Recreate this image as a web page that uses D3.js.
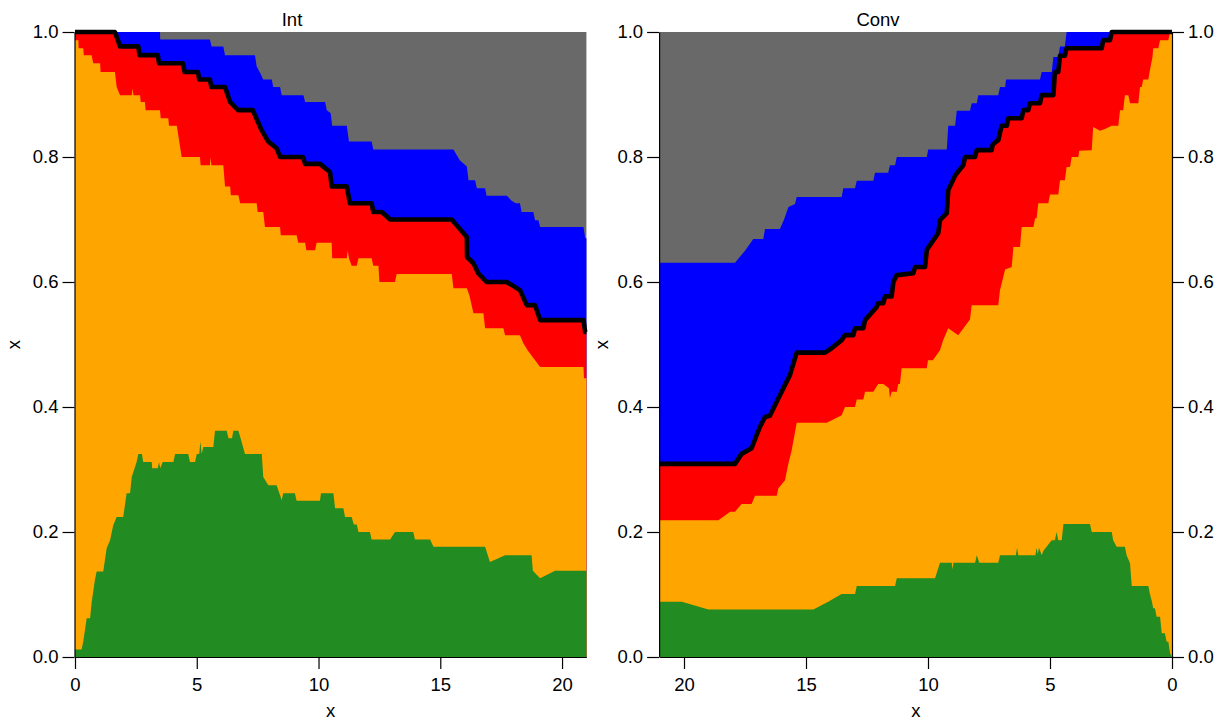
<!DOCTYPE html>
<html>
<head>
<meta charset="utf-8">
<script src="https://cdn.jsdelivr.net/npm/d3@7"></script>
<style>
  body { margin: 0; background: #ffffff; }
  text { font-family: "Liberation Sans", Arial, Helvetica, sans-serif; fill: #000; }
</style>
</head>
<body>
<svg id="chart" width="1227" height="724"></svg>
<script>
// Cumulative proportion boundaries, [x, upper edge of band]

const topEdge = [[0, 1], [21, 1]];

// Panel "Int"
const intBlueTop = [[0,1.0],[3.49,1.0],[3.5,0.988],[5.54,0.988],[5.61,0.977],[6.09,0.977],[6.16,0.963],[7.39,0.963],[7.46,0.945],[7.6,0.935],[7.73,0.924],[8.08,0.924],[8.14,0.912],[8.42,0.912],[8.49,0.899],[9.38,0.899],[9.45,0.888],[10.27,0.888],[10.34,0.875],[10.5,0.87],[10.56,0.85],[11.16,0.85],[11.25,0.825],[12.18,0.825],[12.25,0.812],[15.54,0.812],[15.8,0.795],[16.09,0.785],[16.16,0.763],[16.43,0.763],[16.5,0.75],[16.84,0.75],[16.9,0.738],[17.73,0.738],[17.93,0.73],[18.1,0.726],[18.27,0.726],[18.34,0.712],[18.82,0.712],[18.89,0.699],[19.03,0.699],[19.1,0.688],[20.88,0.688],[20.95,0.67],[21,0.67]];

const intRedTop = [[0,1.0],[1.64,1.0],[1.85,0.977],[2.6,0.977],[2.65,0.963],[3.4,0.963],[3.45,0.95],[4.43,0.95],[4.5,0.936],[5.05,0.936],[5.1,0.924],[5.54,0.924],[5.6,0.912],[6.16,0.912],[6.37,0.888],[6.7,0.875],[7.3,0.875],[7.66,0.843],[7.93,0.825],[8.28,0.814],[8.42,0.8],[9.36,0.8],[9.45,0.789],[10.06,0.789],[10.47,0.776],[10.54,0.753],[11.16,0.753],[11.29,0.726],[12.18,0.726],[12.25,0.712],[12.6,0.712],[12.94,0.7],[15.47,0.7],[15.8,0.685],[16.09,0.672],[16.1,0.64],[16.36,0.63],[16.56,0.614],[16.9,0.6],[17.73,0.6],[18.27,0.587],[18.55,0.563],[18.89,0.563],[19.1,0.539],[20.88,0.539],[20.95,0.52],[21,0.52]];

const intOrangeTop = [[0,0.987],[0.14,0.987],[0.15,0.974],[0.34,0.974],[0.36,0.963],[0.68,0.963],[0.75,0.95],[1.03,0.95],[1.05,0.936],[1.64,0.936],[1.71,0.912],[1.85,0.899],[2.33,0.899],[2.36,0.91],[2.4,0.899],[2.67,0.899],[2.7,0.888],[2.87,0.888],[2.9,0.875],[3.49,0.875],[3.52,0.862],[3.83,0.862],[3.86,0.85],[4.18,0.85],[4.38,0.8],[5.13,0.8],[5.16,0.787],[5.54,0.787],[5.56,0.8],[5.6,0.787],[6.09,0.787],[6.16,0.753],[6.37,0.753],[6.4,0.739],[6.71,0.739],[6.78,0.726],[7.46,0.726],[7.5,0.712],[7.73,0.712],[7.8,0.688],[8.42,0.688],[8.45,0.675],[9.1,0.675],[9.17,0.663],[9.45,0.663],[9.5,0.651],[9.86,0.651],[9.92,0.663],[10.54,0.663],[10.56,0.638],[11.16,0.638],[11.2,0.65],[11.25,0.638],[11.36,0.626],[11.57,0.626],[11.64,0.638],[12.18,0.638],[12.25,0.626],[12.46,0.626],[12.5,0.6],[13.14,0.6],[13.21,0.613],[15.47,0.613],[15.54,0.59],[16.09,0.59],[16.2,0.578],[16.36,0.55],[16.77,0.55],[16.84,0.526],[17.59,0.526],[17.66,0.515],[18.27,0.515],[18.41,0.502],[18.6,0.49],[19.1,0.464],[20.88,0.464],[20.9,0.446],[21,0.446]];

const intGreenTop = [[0,0.012],[0.27,0.012],[0.34,0.025],[0.48,0.062],[0.62,0.062],[0.68,0.086],[0.82,0.124],[0.89,0.137],[1.16,0.137],[1.3,0.174],[1.44,0.187],[1.57,0.211],[1.71,0.224],[1.98,0.224],[2.12,0.262],[2.26,0.262],[2.33,0.288],[2.53,0.312],[2.6,0.325],[2.75,0.325],[2.8,0.312],[3.15,0.312],[3.17,0.302],[3.4,0.302],[3.45,0.312],[3.5,0.302],[3.6,0.312],[4.04,0.312],[4.11,0.325],[4.65,0.325],[4.72,0.312],[4.93,0.312],[5.0,0.325],[5.1,0.325],[5.15,0.345],[5.2,0.325],[5.27,0.336],[5.68,0.336],[5.75,0.362],[6.23,0.362],[6.3,0.35],[6.45,0.35],[6.5,0.362],[6.71,0.362],[6.8,0.35],[6.98,0.325],[7.67,0.325],[7.73,0.288],[7.94,0.275],[8.28,0.275],[8.49,0.251],[8.55,0.262],[9.03,0.262],[9.1,0.25],[10.06,0.25],[10.1,0.262],[10.61,0.262],[10.68,0.238],[11.02,0.238],[11.09,0.224],[11.36,0.224],[11.45,0.212],[11.57,0.212],[11.64,0.2],[12.11,0.2],[12.18,0.188],[12.94,0.188],[13.14,0.2],[13.89,0.2],[13.96,0.188],[14.58,0.188],[14.72,0.1765],[16.84,0.1765],[17.04,0.152],[17.66,0.163],[18.75,0.163],[18.8,0.138],[19.1,0.126],[19.71,0.138],[21,0.138]];

// Panel "Conv"
const convBlueTop = [[21,0.631],[17.91,0.631],[17.5,0.65],[17.16,0.669],[16.75,0.669],[16.68,0.685],[16.07,0.685],[15.9,0.7],[15.72,0.72],[15.45,0.725],[15.38,0.736],[13.54,0.736],[13.47,0.75],[12.99,0.75],[12.92,0.762],[12.24,0.762],[12.17,0.775],[11.63,0.775],[11.56,0.787],[11.35,0.787],[11.28,0.8],[10.05,0.8],[9.99,0.812],[9.23,0.812],[9.17,0.85],[8.89,0.85],[8.82,0.874],[8.28,0.874],[8.21,0.886],[8.0,0.886],[7.94,0.899],[7.12,0.899],[7.05,0.912],[6.84,0.912],[6.8,0.924],[5.41,0.924],[5.34,0.936],[4.93,0.936],[4.86,0.96],[4.66,0.96],[4.59,0.977],[4.39,0.977],[4.32,1.0],[0,1.0]];

const convRedTop = [[21,0.309],[17.91,0.309],[17.64,0.325],[17.23,0.334],[16.89,0.368],[16.68,0.384],[16.48,0.386],[16.13,0.414],[15.66,0.451],[15.45,0.478],[15.38,0.487],[14.22,0.487],[13.95,0.494],[13.54,0.507],[13.4,0.515],[13.06,0.515],[12.99,0.526],[12.65,0.526],[12.58,0.539],[12.1,0.56],[12.04,0.566],[11.83,0.566],[11.76,0.577],[11.49,0.577],[11.42,0.6],[11.28,0.611],[10.6,0.614],[10.53,0.624],[10.12,0.624],[10.05,0.651],[9.99,0.655],[9.58,0.678],[9.51,0.699],[9.23,0.71],[9.17,0.747],[8.89,0.77],[8.82,0.774],[8.55,0.787],[8.48,0.8],[8.07,0.8],[8.0,0.811],[7.39,0.811],[7.35,0.82],[7.12,0.827],[6.98,0.85],[6.77,0.85],[6.71,0.862],[6.16,0.862],[6.09,0.875],[5.89,0.875],[5.82,0.886],[5.41,0.886],[5.34,0.899],[4.86,0.899],[4.8,0.936],[4.66,0.936],[4.59,0.962],[4.39,0.962],[4.32,0.974],[2.88,0.974],[2.82,0.987],[2.54,0.987],[2.47,1.0],[0,1.0]];

const convOrangeTop = [[21,0.219],[18.59,0.219],[18.11,0.2325],[17.91,0.2325],[17.64,0.245],[17.23,0.245],[17.09,0.258],[16.2,0.258],[16.13,0.27],[15.86,0.283],[15.72,0.31],[15.59,0.33],[15.45,0.36],[15.38,0.375],[14.15,0.375],[13.54,0.387],[13.4,0.4],[12.99,0.4],[12.92,0.412],[12.65,0.412],[12.58,0.4245],[12.24,0.4245],[12.04,0.437],[11.83,0.437],[11.6,0.43],[11.56,0.414],[11.49,0.4245],[11.28,0.4245],[11.22,0.437],[11.15,0.437],[11.08,0.462],[10.05,0.462],[10.0,0.475],[9.8,0.475],[9.51,0.491],[9.38,0.507],[9.17,0.526],[8.76,0.515],[8.28,0.54],[8.21,0.563],[7.12,0.563],[7.05,0.587],[6.84,0.62],[6.57,0.624],[6.5,0.656],[6.23,0.656],[6.16,0.688],[5.68,0.688],[5.61,0.702],[5.55,0.702],[5.48,0.726],[5.07,0.726],[5.0,0.74],[4.66,0.74],[4.59,0.763],[4.39,0.763],[4.32,0.784],[4.18,0.784],[4.11,0.8],[3.84,0.8],[3.8,0.81],[3.29,0.811],[3.23,0.848],[2.95,0.842],[2.75,0.845],[2.47,0.85],[2.2,0.85],[2.13,0.875],[2.0,0.875],[1.93,0.899],[1.79,0.899],[1.72,0.886],[1.38,0.886],[1.31,0.912],[1.24,0.912],[1.18,0.924],[0.97,0.924],[0.9,0.94],[0.8,0.96],[0.77,0.974],[0.56,0.974],[0.49,0.987],[0.15,0.987],[0.08,1.0],[0,1.0]];

const convGreenTop = [[21,0.0885],[20.09,0.0885],[19.0,0.076],[14.7,0.076],[14.09,0.0885],[13.54,0.1008],[12.99,0.1008],[12.92,0.1136],[11.35,0.1136],[11.28,0.126],[9.71,0.126],[9.51,0.151],[9.03,0.151],[8.99,0.14],[8.96,0.151],[8.07,0.151],[8.0,0.163],[7.9,0.151],[7.12,0.151],[7.05,0.163],[6.4,0.163],[6.35,0.175],[6.3,0.163],[5.6,0.163],[5.55,0.175],[5.5,0.165],[5.45,0.175],[5.34,0.163],[5.27,0.17],[4.93,0.187],[4.8,0.187],[4.73,0.2],[4.66,0.187],[4.52,0.187],[4.45,0.2128],[3.36,0.2128],[3.29,0.2],[2.47,0.2],[2.41,0.187],[2.27,0.1765],[1.93,0.1765],[1.86,0.163],[1.72,0.15],[1.65,0.1136],[0.97,0.1136],[0.9,0.1],[0.83,0.09],[0.77,0.078],[0.7,0.078],[0.63,0.0645],[0.49,0.0645],[0.42,0.038],[0.29,0.038],[0.22,0.0245],[0.15,0.0245],[0.08,0.006],[0,0.0]];

const yTicks = [0, 0.2, 0.4, 0.6, 0.8, 1.0];
const xTicks = [0, 5, 10, 15, 20];
const panelTitles = ["Int", "Conv"];
const axisTitle = "x";

const colors = { gray: "#696969", blue: "#0000ff", red: "#ff0000", orange: "#ffa500", green: "#228b22" };

const svg = d3.select("#chart");
const FONT = 18.5;
const y = d3.scaleLinear().domain([0, 1]).range([657, 32]);

const panels = [
  { title: panelTitles[0], range: [75, 586.4], titleX: 292, rightAxis: false,
    blue: intBlueTop, red: intRedTop, orange: intOrangeTop, green: intGreenTop, yTitleX: 20 },
  { title: panelTitles[1], range: [1172, 659.6], titleX: 878, rightAxis: true,
    blue: convBlueTop, red: convRedTop, orange: convOrangeTop, green: convGreenTop, yTitleX: 608 }
];

function styleAxis(g) {
  g.attr("font-size", null).attr("font-family", null);
  g.selectAll("path.domain").attr("stroke", "#000").attr("stroke-width", 1.2);
  g.selectAll(".tick line").attr("stroke", "#000").attr("stroke-width", 1.2);
  g.selectAll(".tick text").style("font-size", FONT + "px").attr("fill", "#000");
}

panels.forEach(p => {
  const x = d3.scaleLinear().domain([0, 21]).range(p.range);
  const g = svg.append("g");
  const area = d3.area().x(d => x(d[0])).y0(y(0)).y1(d => y(d[1]));
  const line = d3.line().x(d => x(d[0])).y(d => y(d[1]));

  // stacked bands, painted from the outermost boundary inwards
  [[topEdge, colors.gray], [p.blue, colors.blue], [p.red, colors.red],
   [p.orange, colors.orange], [p.green, colors.green]].forEach(([s, c]) => {
    g.append("path").datum(s).attr("d", area).attr("fill", c);
  });

  // emphasised red/blue boundary
  g.append("path").datum(p.red).attr("d", line)
    .attr("fill", "none").attr("stroke", "#000")
    .attr("stroke-width", 4.6).attr("stroke-linejoin", "round");

  const xLeft = Math.min(...p.range), xRight = Math.max(...p.range);

  // left y axis
  g.append("g").attr("transform", `translate(${xLeft - 0.5},0)`)
    .call(d3.axisLeft(y).tickValues(yTicks).tickFormat(d3.format(".1f"))
      .tickSize(12).tickPadding(4).tickSizeOuter(0))
    .call(styleAxis);

  if (p.rightAxis) {
    g.append("g").attr("transform", `translate(${xRight},0)`)
      .call(d3.axisRight(y).tickValues(yTicks).tickFormat(d3.format(".1f"))
        .tickSize(12).tickPadding(4).tickSizeOuter(0))
      .call(styleAxis);
  }

  // bottom x axis
  g.append("g").attr("transform", `translate(0,${y(0)})`)
    .call(d3.axisBottom(x).tickValues(xTicks).tickFormat(d3.format("d"))
      .tickSize(12).tickPadding(9).tickSizeOuter(0))
    .call(styleAxis);

  // titles
  g.append("text").attr("x", p.titleX).attr("y", 26)
    .attr("text-anchor", "middle").style("font-size", FONT + "px").text(p.title);
  g.append("text").attr("x", (xLeft + xRight) / 2).attr("y", 717)
    .attr("text-anchor", "middle").style("font-size", FONT + "px").text(axisTitle);
  g.append("text").attr("transform", `translate(${p.yTitleX},${(y(0) + y(1)) / 2}) rotate(-90)`)
    .attr("text-anchor", "middle").style("font-size", FONT + "px").text(axisTitle);
});
</script>
</body>
</html>
